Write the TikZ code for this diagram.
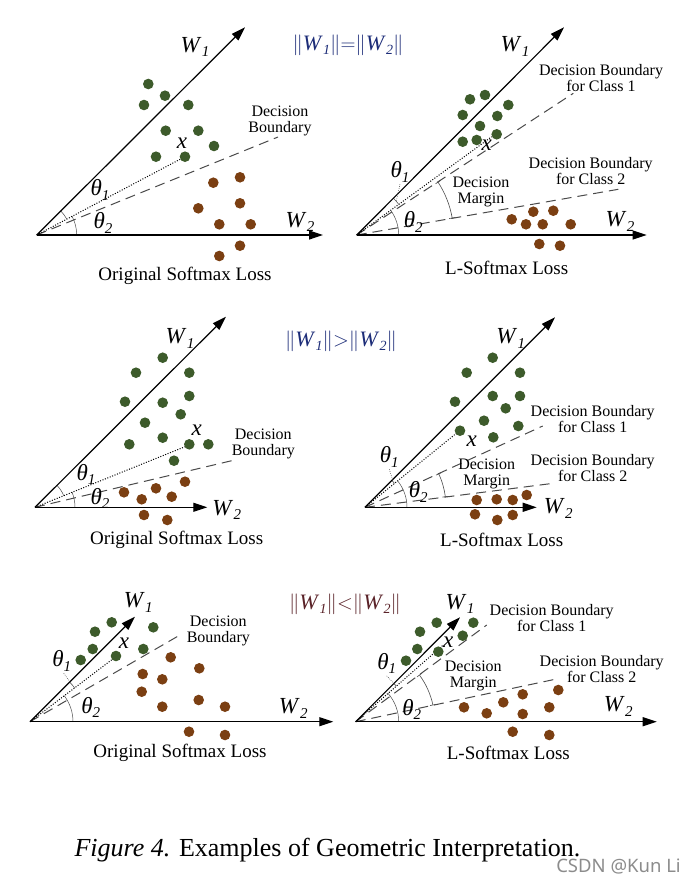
\documentclass[tikz,border=0pt]{standalone}
\usepackage{fontspec}
\setmainfont{Liberation Serif}
\newfontfamily\wmfont{Noto Sans}
\usetikzlibrary{arrows.meta,calc}
\definecolor{gdotc}{HTML}{3D5B2B}
\definecolor{bdotc}{HTML}{7B3F12}
\definecolor{dashc}{HTML}{4A4A4A}
\definecolor{hblue}{HTML}{1C2C78}
\definecolor{hbrown}{HTML}{5A2228}
\newcommand\Wl[2][15]{\textit{W}\kern0.3pt\raisebox{-0.2em}{\fontsize{#1}{#1}\selectfont\textit{#2}}}
\newcommand\Th[1]{\textit{θ}\raisebox{-0.2em}{\fontsize{15}{15}\selectfont\textit{#1}}}
\newcommand\Hdr[1]{$\|$\Wl[14]{1}$\|$#1$\|$\Wl[14]{2}$\|$}
\tikzset{
  axis/.style={line width=1.2pt,-{Triangle[length=14pt,width=9pt]}},
  bnd/.style={dashc,line width=1pt,dash pattern=on 10pt off 6pt},
  dotl/.style={line width=1pt,dash pattern=on 1pt off 1.6pt},
  ang/.style={line width=0.5pt,black!70},
  marg/.style={line width=0.6pt,black!70,{Bar[width=6pt]}-{Bar[width=6pt]}},
  lead/.style={line width=0.5pt,black!70,dash pattern=on 0.8pt off 1.2pt},
  gdot/.style={fill=gdotc},
  bdot/.style={fill=bdotc},
  wlab/.style={font=\fontsize{23}{23}\selectfont,inner sep=0pt},
  dlab/.style={font=\fontsize{16}{16}\selectfont,align=center,inner sep=0pt},
  losslab/.style={font=\fontsize{19}{19}\selectfont,inner sep=0pt},
  hdr/.style={font=\fontsize{22}{22}\selectfont,inner sep=0pt}
}
\begin{document}
\begin{tikzpicture}[x=1pt,y=1pt]
\useasboundingbox (0,0) rectangle (696,-886);
\fill[white] (0,0) rectangle (696,-886);
% ---------- coordinates ----------
\coordinate (O1) at (36.7,-235);  \coordinate (A1) at (245,-27.3);  \coordinate (B1) at (323,-235);
\coordinate (O2) at (356.7,-235); \coordinate (A2) at (564,-27.3);  \coordinate (B2) at (646.7,-235);
\coordinate (O3) at (35,-507.3);  \coordinate (A3) at (226,-316.7); \coordinate (B3) at (207.3,-507.3);
\coordinate (O4) at (365,-507.3); \coordinate (A4) at (555,-317.3); \coordinate (B4) at (536.7,-507.3);
\coordinate (O5) at (30,-721.7);  \coordinate (A5) at (135,-616.7); \coordinate (B5) at (333.3,-721.7);
\coordinate (O6) at (355.7,-721.7); \coordinate (A6) at (460,-617.3); \coordinate (B6) at (656.7,-721.7);
\coordinate (D1) at (278,-137);
\coordinate (D2a) at (573.3,-93.3); \coordinate (D2b) at (618.3,-189.3);
\coordinate (D3) at (231.7,-460.7);
\coordinate (D4a) at (542.7,-426); \coordinate (D4b) at (553.3,-483.3);
\coordinate (D5) at (181.7,-634);
\coordinate (D6a) at (486.7,-625); \coordinate (D6b) at (555,-679.3);
\coordinate (X1) at (185,-156.7); \coordinate (X2) at (491.7,-136.7);
\coordinate (X3) at (185,-446.7); \coordinate (X4) at (458.3,-431.7);
\coordinate (X5) at (116.7,-656); \coordinate (X6) at (443.3,-645);
% ---------- boundaries ----------
\draw[bnd] (O1) -- (D1);
\draw[bnd] (O2) -- (D2a); \draw[bnd] (O2) -- (D2b);
\draw[bnd] (O3) -- (D3);
\draw[bnd] (O4) -- (D4a); \draw[bnd] (O4) -- (D4b);
\draw[bnd] (O5) -- (D5);
\draw[bnd] (O6) -- (D6a); \draw[bnd] (O6) -- (D6b);
% ---------- dotted x ----------
\draw[dotl] (O1) -- (X1); \draw[dotl] (O2) -- (X2); \draw[dotl] (O3) -- (X3);
\draw[dotl] (O4) -- (X4); \draw[dotl] (O5) -- (X5); \draw[dotl] (O6) -- (X6);
% ---------- angle arcs ----------
\draw[ang] ($(O1)+(45:34)$) arc[start angle=45,end angle=27.8,radius=34];
\draw[ang] ($(O1)+(27.8:40)$) arc[start angle=27.8,end angle=0,radius=40];
\draw[ang] ($(O2)+(45:52)$) arc[start angle=45,end angle=36,radius=52];
\draw[ang] ($(O2)+(36:42)$) arc[start angle=36,end angle=0,radius=42];
\draw[marg] ($(O2)+(33.2:97)$) arc[start angle=33.2,end angle=9.9,radius=97];
\draw[ang] ($(O3)+(45:31)$) arc[start angle=45,end angle=22,radius=31];
\draw[ang] ($(O3)+(22:40)$) arc[start angle=22,end angle=0,radius=40];
\draw[ang] ($(O4)+(45:38)$) arc[start angle=45,end angle=39,radius=38];
\draw[ang] ($(O4)+(39:42)$) arc[start angle=39,end angle=0,radius=42];
\draw[marg] ($(O4)+(24.6:81)$) arc[start angle=24.6,end angle=7.3,radius=81];
\draw[ang] ($(O5)+(45:56)$) arc[start angle=45,end angle=37.2,radius=56];
\draw[ang] ($(O5)+(37.2:43)$) arc[start angle=37.2,end angle=0,radius=43];
\draw[ang] ($(O6)+(45:54)$) arc[start angle=45,end angle=41.2,radius=54];
\draw[ang] ($(O6)+(41.2:43)$) arc[start angle=41.2,end angle=0,radius=43];
\draw[marg] ($(O6)+(36.4:79)$) arc[start angle=36.4,end angle=12,radius=79];
% ---------- axes ----------
\draw[axis] (O1) -- (A1); \draw[axis] (O1) -- (B1);
\draw[axis] (O2) -- (A2); \draw[axis] (O2) -- (B2);
\draw[axis] (O3) -- (A3); \draw[axis] (O3) -- (B3);
\draw[axis] (O4) -- (A4); \draw[axis] (O4) -- (B4);
\draw[axis] (O5) -- (A5); \draw[axis] (O5) -- (B5);
\draw[axis] (O6) -- (A6); \draw[axis] (O6) -- (B6);
% ---------- dots ----------
\foreach \p in {(148.3,-84),(165,-95.7),(144,-105),(188.3,-105),(165.7,-130.7),(198.3,-130.7),(214,-146),(156,-156.7),(185,-156.7),
  (470,-99.3),(485,-95),(462.7,-115),(497.3,-116),(508.3,-105),(480,-126),(462.7,-141.7),(476.7,-140),(496.7,-134.3),
  (162.7,-357.7),(136,-372.7),(189.3,-372.7),(125,-401.7),(162.7,-402.7),(189.3,-396),(180.7,-414.3),(145,-422.7),(162.7,-437.7),(129.3,-444.3),(189.3,-444.3),(208.3,-444.3),(174,-460.7),
  (492.7,-357.7),(466.7,-372.7),(520,-372.7),(455,-401.7),(492.7,-396),(520,-396),(505.7,-408.3),(484,-420.7),(518.3,-426),(460,-430.7),(493.3,-437.3),
  (111.7,-622.3),(153.3,-627.3),(95,-631.7),(92.7,-649),(143.3,-649),(80.7,-660),(116,-656),
  (436.7,-622.7),(473.3,-622.7),(420,-631.7),(417.3,-649),(462.7,-635.7),(406,-660.7),(438.3,-651.7)}
  \fill[gdot] \p circle (5.3);
\foreach \p in {(213.3,-182.7),(240,-177.3),(198.3,-208.3),(240,-203.3),(219.3,-224.3),(250.7,-224.3),(240,-245.7),(219.3,-256),
  (511.7,-219.3),(533.3,-211.7),(553.3,-210.7),(526,-224.3),(542.7,-224.3),(570.7,-224.3),(539.3,-244),(560,-245.7),
  (124,-492.3),(141.7,-499.3),(156,-488.3),(171.7,-496.7),(185,-481.7),(144,-515),(167.3,-520),
  (476.7,-500),(496.7,-499.3),(512.7,-500),(526.7,-495),(475,-514.3),(497.3,-520),(512.7,-515),
  (170.7,-657.3),(199.3,-668.3),(142.7,-674),(162.3,-679.3),(141.7,-691.7),(162.3,-706.7),(198.7,-700),(225,-706.7),(189,-731.7),(225,-735),
  (558.3,-690),(522.7,-694.3),(503.3,-702.3),(464,-707.3),(486.7,-713.3),(522.7,-714),(549.3,-707.3),(512.7,-731.7),(549.3,-735)}
  \fill[bdot] \p circle (5.3);
% ---------- headers ----------
\node[hdr,text=hblue] (h1) at (348,-45) {\Hdr{$=$}};
\node[hdr,text=hblue] (h2) at (341,-341) {\Hdr{$>$}};
\node[hdr,text=hbrown] (h3) at (345,-604) {\Hdr{$<$}};
% ---------- W labels ----------
\node[wlab] (w11) at (195,-47) {\Wl{1}};   \node[wlab] (w12) at (300,-222) {\Wl{2}};
\node[wlab] (w21) at (515,-46.7) {\Wl{1}}; \node[wlab] (w22) at (620,-221.7) {\Wl{2}};
\node[wlab] (w31) at (180,-338.3) {\Wl{1}}; \node[wlab] (w32) at (226.7,-510) {\Wl{2}};
\node[wlab] (w41) at (510.7,-338.3) {\Wl{1}}; \node[wlab] (w42) at (558.3,-508.3) {\Wl{2}};
\node[wlab] (w51) at (138.3,-602.7) {\Wl{1}}; \node[wlab] (w52) at (293.3,-708.3) {\Wl{2}};
\node[wlab] (w61) at (460,-604) {\Wl{1}}; \node[wlab] (w62) at (618.3,-706.7) {\Wl{2}};
% ---------- theta labels ----------
\node[wlab] (t11) at (100,-190) {\Th{1}};   \node[wlab] (t12) at (103,-223) {\Th{2}};
\node[wlab] (t21) at (400,-171.7) {\Th{1}}; \node[wlab] (t22) at (413.3,-221.7) {\Th{2}};
\node[wlab] (t31) at (86,-474.3) {\Th{1}};  \node[wlab] (t32) at (100,-498.3) {\Th{2}};
\node[wlab] (t41) at (389.3,-456.7) {\Th{1}}; \node[wlab] (t42) at (418.3,-491.7) {\Th{2}};
\node[wlab] (t51) at (61.7,-660.7) {\Th{1}}; \node[wlab] (t52) at (90.7,-707.3) {\Th{2}};
\node[wlab] (t61) at (386.7,-663.3) {\Th{1}}; \node[wlab] (t62) at (411.7,-709.3) {\Th{2}};
\draw[lead] (t21.south) ++(0,-2) -- ($(O2)+(40.5:52)$);
\draw[lead] (t41.south) ++(0,-2) -- ($(O4)+(42:38)$);
\draw[lead] (t51.south) ++(2,-2) -- ($(O5)+(41:56)$);
\draw[lead] (t61.south) ++(0,-2) -- ($(O6)+(43:54)$);
% ---------- x labels ----------
\node[wlab] (x1) at (182,-143) {\textit{x}};
\node[wlab] (x2) at (486.7,-145) {\textit{x}};
\node[wlab] (x3) at (196.7,-430) {\textit{x}};
\node[wlab] (x4) at (471.7,-441.7) {\textit{x}};
\node[wlab] (x5) at (124,-643.3) {\textit{x}};
\node[wlab] (x6) at (448.3,-642.7) {\textit{x}};
% ---------- boundary labels ----------
\node[dlab] (db1) at (280,-120.5) {Decision\\Boundary};
\node[dlab] (db2a) at (601,-78) {Decision Boundary\\for Class 1};
\node[dlab] (db2b) at (590.7,-171.3) {Decision Boundary\\for Class 2};
\node[dlab] (dm2) at (481,-192) {Decision\\Margin};
\node[dlab] (db3) at (263.3,-444.3) {Decision\\Boundary};
\node[dlab] (db4a) at (592.7,-418.7) {Decision Boundary\\for Class 1};
\node[dlab] (db4b) at (592.7,-468) {Decision Boundary\\for Class 2};
\node[dlab] (dm4) at (486.7,-473.7) {Decision\\Margin};
\node[dlab] (db5) at (218.3,-631.3) {Decision\\Boundary};
\node[dlab] (db6a) at (551.7,-618) {Decision Boundary\\for Class 1};
\node[dlab] (db6b) at (601.7,-669.5) {Decision Boundary\\for Class 2};
\node[dlab] (dm6) at (473.3,-676.3) {Decision\\Margin};
% ---------- loss labels ----------
\node[losslab] (l1) at (185,-276) {Original Softmax Loss};
\node[losslab] (l2) at (506.7,-267.7) {L-Softmax Loss};
\node[losslab] (l3) at (176.7,-540) {Original Softmax Loss};
\node[losslab] (l4) at (501.7,-540) {L-Softmax Loss};
\node[losslab] (l5) at (180,-753.3) {Original Softmax Loss};
\node[losslab] (l6) at (508.3,-753.3) {L-Softmax Loss};
% ---------- caption ----------
\node[font=\fontsize{26}{26}\selectfont,inner sep=0pt] (capt) at (327.5,-850) {\textit{Figure 4.} Examples of Geometric Interpretation.};
\node[font=\wmfont\fontsize{18.5}{18.5}\selectfont,text=black!45,inner sep=0pt] (wm) at (618.5,-866) {CSDN @Kun Li};
\end{tikzpicture}
\end{document}
